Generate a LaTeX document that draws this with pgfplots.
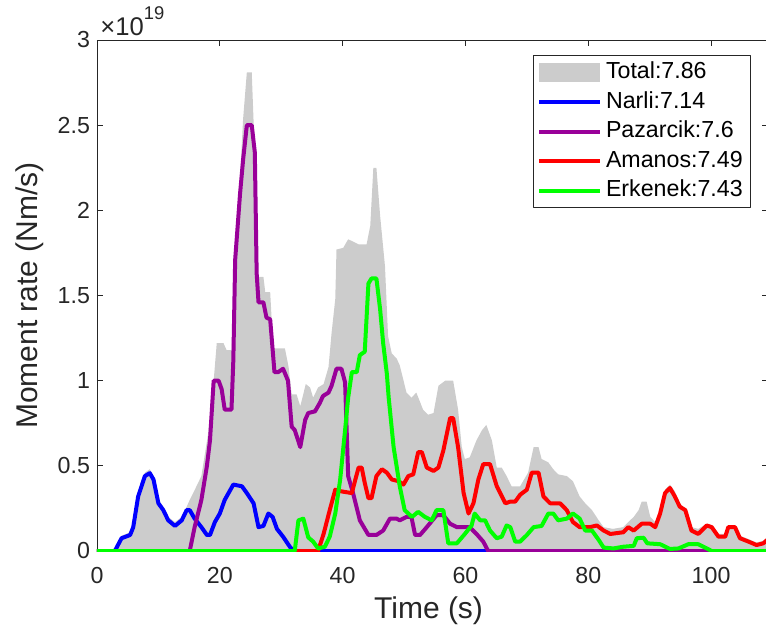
\documentclass[border=0pt]{standalone}
\usepackage{fontspec}
\setmainfont{Liberation Sans}
\usepackage{pgfplots}
\pgfplotsset{compat=1.18}
\definecolor{mpurple}{rgb}{0.6,0,0.6}
\definecolor{axgray}{rgb}{0.15,0.15,0.15}
\definecolor{fillgray}{rgb}{0.8,0.8,0.8}
\begin{document}
\begin{tikzpicture}
\begin{axis}[
  name=ax,
  scale only axis, width=335.6pt, height=255.5pt, at={(0,0)}, anchor=south west,
  xmin=0, xmax=109.3, ymin=0, ymax=3,
  xtick={0,20,40,60,80,100}, ytick={0,0.5,1,1.5,2,2.5,3},
  yticklabels={0,0.5,1,1.5,2,2.5,3},
  tick align=inside, tick pos=both, major tick length=3pt,
  axis line style={axgray, line width=0.4pt},
  every tick/.style={axgray, line width=0.4pt},
  tick label style={font=\fontsize{11.6}{13}\selectfont, text=axgray},
  xticklabel style={yshift=-4.5pt},
  /pgf/number format/assume math mode=true,
  xlabel={Time (s)}, ylabel={Moment rate (Nm/s)},
  label style={font=\fontsize{15}{17}\selectfont, text=axgray},
  xlabel style={at={(axis description cs:0.494,-0.116)}, anchor=center},
  ylabel style={at={(axis description cs:-0.0998,0.5)}, anchor=center},
  legend cell align=left,
  legend image code/.code={\draw[#1] (0pt,0pt) -- (30.5pt,0pt);},
  legend style={at={(axis cs:71,2.91)}, anchor=north west, draw=axgray, fill=white,
    font=\fontsize{11.6}{13}\selectfont, row sep=0pt, inner xsep=2pt, inner ysep=1pt,
    nodes={text height=8.6pt, text depth=2.6pt, inner sep=1.8pt}},
  line join=round,
]
\addplot[fill=fillgray, draw=none, legend image code/.code={\fill[fillgray] (0pt,-4.8pt) rectangle (30.5pt,4.8pt);}] coordinates {
(0,0) (2.9,0) (4.0,0.09) (5.4,0.11) (5.9,0.16) (6.7,0.34) (7.8,0.46) (8.6,0.48) (9.2,0.44) (10.0,0.30) (10.8,0.26) (11.6,0.20) (12.7,0.17) (13.8,0.20) (14.6,0.26) (15.1,0.30) (16.2,0.38) (17.0,0.44) (18.1,0.69) (19.0,1.0) (19.5,1.22) (20.6,1.22) (21.1,1.18) (21.9,1.18) (22.5,1.71) (23.3,2.2) (23.8,2.54) (24.4,2.81) (25.2,2.81) (25.5,2.52) (26.0,1.61) (27.1,1.61) (27.4,1.52) (28.2,1.52) (28.7,1.19) (30.6,1.19) (31.2,1.08) (31.7,0.92) (32.5,0.92) (33.1,0.85) (34.0,0.98) (34.7,0.96) (35.2,0.90) (36.0,0.96) (36.9,0.98) (37.7,1.08) (38.2,1.28) (38.8,1.48) (39.0,1.77) (40.1,1.78) (40.9,1.83) (41.5,1.82) (42.6,1.80) (43.9,1.80) (44.5,1.91) (45.0,2.25) (45.5,2.25) (46.1,1.97) (46.9,1.67) (47.4,1.26) (48.0,1.16) (48.8,1.13) (49.3,1.09) (50.4,0.93) (51.2,0.90) (52.0,0.93) (53.1,0.83) (53.9,0.80) (54.8,0.81) (55.6,0.97) (56.7,1.0) (58.0,1.0) (58.8,0.83) (59.4,0.61) (59.9,0.54) (60.7,0.55) (61.8,0.65) (62.7,0.71) (63.4,0.74) (64.3,0.65) (65.1,0.49) (65.9,0.49) (66.7,0.44) (67.5,0.38) (68.9,0.38) (70.2,0.46) (71.1,0.61) (71.9,0.61) (72.4,0.54) (73.5,0.52) (74.3,0.48) (75.1,0.45) (76.5,0.44) (77.5,0.41) (78.6,0.32) (79.5,0.28) (80.6,0.24) (81.7,0.18) (82.5,0.14) (84.0,0.13) (85.7,0.14) (86.8,0.18) (87.4,0.2) (88.2,0.24) (88.7,0.29) (89.5,0.29) (90.1,0.2) (90.9,0.17) (91.7,0.23) (92.5,0.36) (93.3,0.39) (94.1,0.35) (94.9,0.28) (95.8,0.25) (96.8,0.14) (97.9,0.13) (99.3,0.16) (100.1,0.15) (101.2,0.1) (102.3,0.1) (102.8,0.15) (103.9,0.15) (104.7,0.09) (106.1,0.07) (107.4,0.05) (108.5,0.06) (109.3,0.08)
} \closedcycle;
\addlegendentry{Total:7.86}
\addplot[blue, line width=2pt] coordinates {
(0,0) (2.9,0) (4.0,0.075) (5.4,0.094) (5.9,0.14) (6.7,0.32) (7.8,0.44) (8.6,0.457) (9.2,0.42) (10.0,0.28) (10.8,0.24) (11.6,0.18) (12.7,0.147) (13.8,0.18) (14.6,0.24) (15.1,0.24) (15.9,0.19) (17.0,0.14) (17.9,0.094) (18.4,0.094) (19.2,0.17) (20.0,0.22) (20.8,0.30) (22.2,0.39) (23.6,0.38) (24.4,0.34) (25.5,0.28) (26.3,0.14) (27.1,0.147) (27.9,0.22) (28.6,0.20) (29.3,0.13) (30.3,0.084) (31.4,0.025) (32,0) (109.3,0)
};
\addlegendentry{Narli:7.14}
\addplot[mpurple, line width=2pt] coordinates {
(0,0) (15.1,0) (15.9,0.14) (17.0,0.30) (17.9,0.50) (18.4,0.65) (19.0,1.0) (19.8,1.0) (20.3,0.95) (20.8,0.83) (21.9,0.83) (22.2,1.12) (22.5,1.71) (23.3,2.1) (23.8,2.3) (24.4,2.5) (25.2,2.5) (25.7,2.34) (26.0,1.63) (26.3,1.46) (27.1,1.46) (27.6,1.37) (28.2,1.36) (28.9,1.05) (29.5,1.05) (30.3,1.07) (31.1,1.0) (31.7,0.73) (32.2,0.71) (33.1,0.61) (33.9,0.77) (34.4,0.81) (35.5,0.82) (36.3,0.87) (36.8,0.91) (37.7,0.93) (38.2,0.97) (39.0,1.07) (39.8,1.07) (40.4,0.99) (40.9,0.44) (41.7,0.34) (42.8,0.18) (44.2,0.094) (45.5,0.094) (46.6,0.12) (47.7,0.19) (48.8,0.19) (49.3,0.18) (50.4,0.2) (51.2,0.2) (51.8,0.094) (52.6,0.094) (53.7,0.14) (55.3,0.21) (56.4,0.21) (57.5,0.16) (58.6,0.14) (59.9,0.14) (60.7,0.14) (61.8,0.1) (62.9,0.055) (63.7,0) (109.3,0)
};
\addlegendentry{Pazarcik:7.6}
\addplot[red, line width=2pt] coordinates {
(0,0) (36.0,0) (36.9,0.1) (37.9,0.24) (38.8,0.36) (39.8,0.35) (41.5,0.34) (42.0,0.41) (42.6,0.49) (43.1,0.49) (43.6,0.40) (44.2,0.31) (44.7,0.31) (45.5,0.44) (46.4,0.48) (47.2,0.46) (48.0,0.42) (49.1,0.41) (49.9,0.39) (50.7,0.44) (51.5,0.45) (52.3,0.58) (52.9,0.58) (53.7,0.49) (54.8,0.47) (55.6,0.49) (56.4,0.59) (57.5,0.78) (58.0,0.78) (58.8,0.61) (59.7,0.34) (60.5,0.22) (61.3,0.28) (62.1,0.42) (62.9,0.51) (64.0,0.51) (65.1,0.38) (66.5,0.28) (67.3,0.29) (68.1,0.29) (68.9,0.33) (70.0,0.36) (70.8,0.46) (71.9,0.46) (72.7,0.32) (73.8,0.28) (75.4,0.28) (76.5,0.24) (77.5,0.17) (78.6,0.14) (80.3,0.14) (81.4,0.15) (82.5,0.12) (83.6,0.10) (85.7,0.11) (86.5,0.14) (87.4,0.12) (88.7,0.16) (90.1,0.16) (90.9,0.14) (91.7,0.22) (92.5,0.34) (93.3,0.37) (94.1,0.32) (94.9,0.26) (95.8,0.24) (96.8,0.12) (97.9,0.10) (99.3,0.15) (100.1,0.14) (101.2,0.084) (102.3,0.084) (102.8,0.14) (103.9,0.14) (104.7,0.075) (106.1,0.055) (107.4,0.035) (108.5,0.045) (109.3,0.07)
};
\addlegendentry{Amanos:7.49}
\addplot[green, line width=2pt] coordinates {
(0,0) (32.2,0) (32.8,0.18) (33.6,0.19) (34.4,0.08) (35.2,0.055) (36.0,0.015) (37.1,0.025) (37.9,0.084) (38.8,0.22) (39.6,0.42) (40.4,0.71) (40.9,0.9) (41.5,1.05) (42.3,1.05) (42.8,1.15) (43.6,1.17) (44.2,1.57) (44.7,1.60) (45.5,1.60) (46.1,1.42) (46.6,1.22) (47.2,1.04) (47.5,0.9) (48.3,0.61) (49.3,0.38) (50.1,0.24) (51.3,0.2) (52.3,0.23) (53.4,0.2) (54.5,0.18) (55.3,0.24) (56.4,0.24) (57.2,0.045) (58.6,0.045) (59.9,0.10) (61.0,0.15) (61.5,0.22) (62.4,0.18) (63.2,0.18) (64.0,0.12) (65.1,0.075) (65.9,0.084) (66.7,0.15) (67.3,0.14) (68.1,0.055) (68.9,0.055) (70.0,0.094) (71.1,0.14) (72.4,0.147) (73.5,0.22) (74.3,0.22) (75.1,0.18) (76.5,0.19) (77.5,0.22) (78.6,0.19) (79.5,0.12) (80.6,0.12) (81.7,0.065) (82.5,0.02) (84.1,0.015) (85.7,0.025) (87.4,0.03) (87.9,0.075) (89.0,0.078) (89.6,0.045) (91.7,0.04) (93.3,0.012) (94.7,0.015) (96.3,0.04) (97.9,0.04) (99.3,0.015) (100.1,0) (109.3,0)
};
\addlegendentry{Erkenek:7.43}
\end{axis}
\node[anchor=base west, inner sep=0pt, text=axgray, font=\fontsize{12.8}{14}\selectfont] at ([xshift=1.5pt,yshift=2.5pt]ax.north west) {×10\raisebox{0.62em}{\fontsize{9.2}{10}\selectfont 19}};
\pgfresetboundingbox
\path[use as bounding box] (-48.5pt,-40.5pt) rectangle (334.5pt,275.5pt);
\end{tikzpicture}
\end{document}
